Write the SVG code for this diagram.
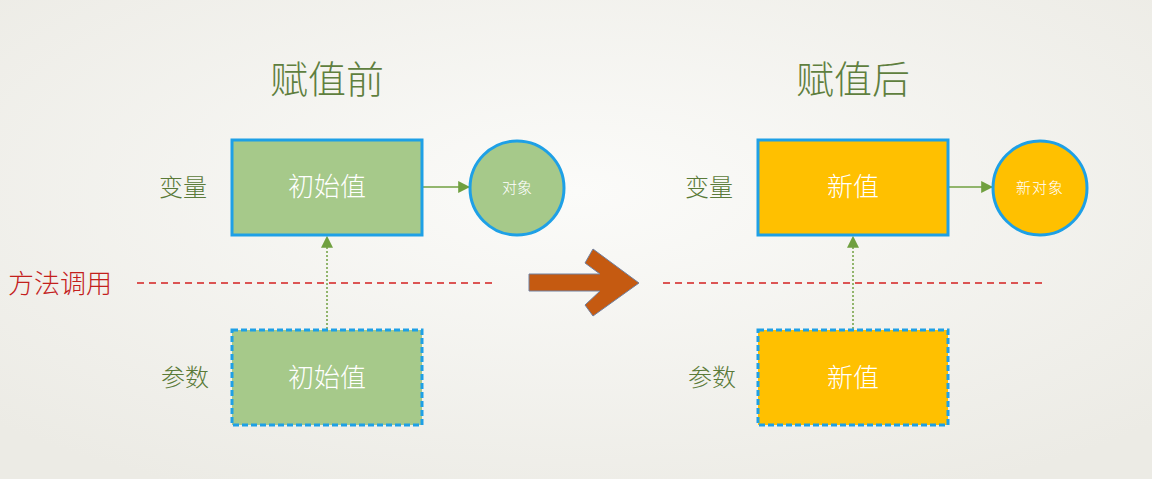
<svg xmlns="http://www.w3.org/2000/svg" width="1152" height="479" viewBox="0 0 1152 479">
<defs>
<radialGradient id="bg" cx="50%" cy="40%" r="70%">
<stop offset="0" stop-color="#fbfbf9"/>
<stop offset="1" stop-color="#ecebe5"/>
</radialGradient>
<marker id="ah" viewBox="0 0 10 10" refX="9" refY="5" markerWidth="12" markerHeight="12" markerUnits="userSpaceOnUse" orient="auto">
<path d="M0,0 L10,5 L0,10 Z" fill="#70a040"/>
</marker>
<style>
.t{font-family:"Noto Sans CJK SC","Liberation Sans",sans-serif;font-weight:300;}
.title{font-size:38px;fill:#5f7f3e;}
.lbl{font-size:24px;fill:#5a7a38;}
.box{stroke:#1ea0e6;stroke-width:3;}
.dash{stroke-dasharray:6,3;}
.g{fill:#a6c98a;}
.o{fill:#ffc000;}
.bt{font-size:26px;fill:#ffffff;}
.ct{font-size:15px;fill:#ffffff;}
.conn{stroke:#70a040;stroke-width:1.5;fill:none;}
.dot{stroke-dasharray:2,2;}
.sep{stroke:#d42020;stroke-width:1.3;stroke-dasharray:7,5;}
</style>
</defs>
<rect width="1152" height="479" fill="url(#bg)"/>
<text class="t title" x="327" y="93" text-anchor="middle">赋值前</text>
<text class="t title" x="853" y="93" text-anchor="middle">赋值后</text>
<text class="t" x="8" y="293" font-size="26" fill="#c3201c">方法调用</text>
<g id="separators">
<line class="sep" x1="137" y1="283" x2="494" y2="283"/>
<line class="sep" x1="663" y1="283" x2="1042" y2="283"/>
</g>
<g id="label-var-left"><text class="t lbl" x="183" y="196" text-anchor="middle">变量</text></g>
<g id="label-param-left"><text class="t lbl" x="185" y="386" text-anchor="middle">参数</text></g>
<g id="label-var-right"><text class="t lbl" x="709" y="196" text-anchor="middle">变量</text></g>
<g id="label-param-right"><text class="t lbl" x="712" y="386" text-anchor="middle">参数</text></g>
<g id="connectors">
<line class="conn" x1="422" y1="187" x2="469" y2="187" marker-end="url(#ah)"/>
<line class="conn dot" x1="327" y1="329" x2="327" y2="237" marker-end="url(#ah)"/>
<line class="conn" x1="948" y1="187" x2="992" y2="187" marker-end="url(#ah)"/>
<line class="conn dot" x1="853" y1="329" x2="853" y2="237" marker-end="url(#ah)"/>
</g>
<g id="var-before">
<rect class="box g" x="232" y="140" width="190" height="95"/>
<text class="t bt" x="327" y="196" text-anchor="middle">初始值</text>
</g>
<g id="obj-before">
<circle class="box g" cx="517" cy="188" r="47"/>
<text class="t ct" x="517" y="193" text-anchor="middle">对象</text>
</g>
<g id="param-before">
<rect class="box g dash" x="232" y="330" width="190" height="95"/>
<text class="t bt" x="327" y="387" text-anchor="middle">初始值</text>
</g>
<g id="big-arrow">
<polygon points="529,274 600,274 585,263 593,249 639,283 593,316 585,305 600,291 529,291" fill="#c55a11" stroke="#7080a0" stroke-width="1"/>
</g>
<g id="var-after">
<rect class="box o" x="758" y="140" width="190" height="95"/>
<text class="t bt" x="853" y="196" text-anchor="middle">新值</text>
</g>
<g id="obj-after">
<circle class="box o" cx="1040" cy="188" r="47"/>
<text class="t ct" x="1040" y="193" text-anchor="middle" letter-spacing="1">新对象</text>
</g>
<g id="param-after">
<rect class="box o dash" x="758" y="330" width="190" height="95"/>
<text class="t bt" x="853" y="387" text-anchor="middle">新值</text>
</g>
</svg>
